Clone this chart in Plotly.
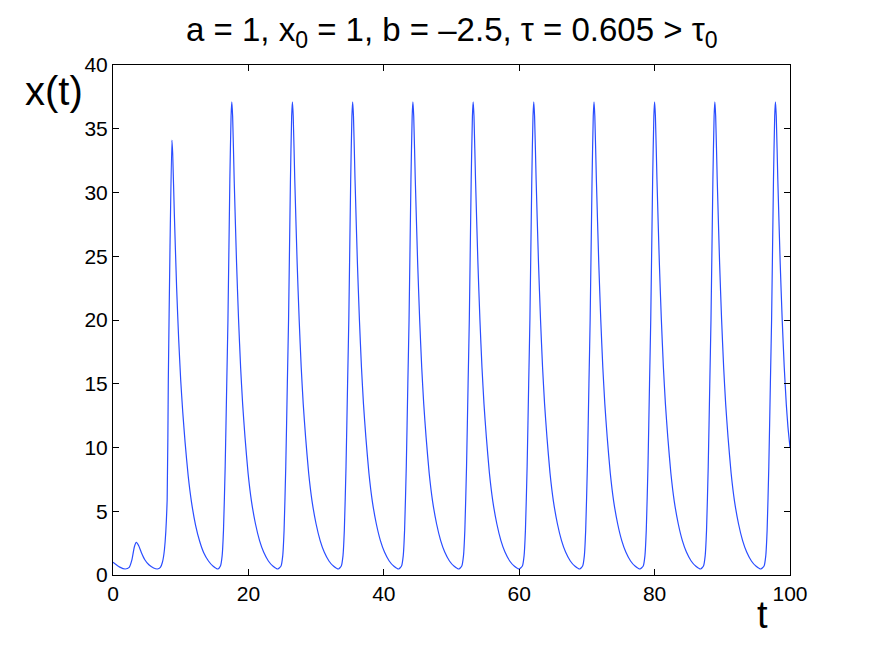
import plotly.graph_objects as go

# values (x(t) vs t)
t_start = [0, 0.5, 1.0, 1.8, 2.4, 2.8, 3.15, 3.45, 3.8, 4.2, 4.7, 5.3, 6.0, 6.55, 7.0, 7.3, 7.6, 8.0, 8.17, 8.42,
           8.7, 8.82, 9.05, 9.4, 9.7, 10.0, 10.3, 10.65, 11.1, 11.6, 12.2, 12.8, 13.4, 14.1, 14.8, 15.5,
           15.87, 16.12, 16.32, 16.57, 16.8, 16.98, 17.26, 17.44]
x_start = [1.0, 0.8, 0.62, 0.47, 0.6, 1.2, 2.2, 2.56, 2.3, 1.75, 1.2, 0.8, 0.55, 0.47, 0.6, 1.0, 2.0, 5.9, 15.3, 25.7,
           34.1, 33.0, 28.5, 22.5, 18.5, 15.3, 12.8, 10.4, 7.8, 5.7, 3.9, 2.65, 1.75, 1.1, 0.68, 0.47,
           0.7, 1.5, 3.5, 8.5, 15.0, 20.0, 31.0, 36.0]

t_osc = [
    17.55, 17.67, 17.90, 18.25, 18.55, 18.85, 19.15, 19.50, 19.95, 20.45, 21.05, 21.65, 22.25, 22.95, 23.65, 24.35,
    24.82, 25.07, 25.27, 25.52, 25.75, 25.93, 26.21, 26.39,
    26.50, 26.62, 26.85, 27.20, 27.50, 27.80, 28.10, 28.45, 28.90, 29.40, 30.00, 30.60, 31.20, 31.90, 32.60, 33.30,
    33.72, 33.97, 34.17, 34.42, 34.65, 34.83, 35.11, 35.29,
    35.40, 35.52, 35.75, 36.10, 36.40, 36.70, 37.00, 37.35, 37.80, 38.30, 38.90, 39.50, 40.10, 40.80, 41.50, 42.20,
    42.62, 42.87, 43.07, 43.32, 43.55, 43.73, 44.01, 44.19,
    44.30, 44.42, 44.65, 45.00, 45.30, 45.60, 45.90, 46.25, 46.70, 47.20, 47.80, 48.40, 49.00, 49.70, 50.40, 51.10,
    51.52, 51.77, 51.97, 52.22, 52.45, 52.63, 52.91, 53.09,
    53.20, 53.32, 53.55, 53.90, 54.20, 54.50, 54.80, 55.15, 55.60, 56.10, 56.70, 57.30, 57.90, 58.60, 59.30, 60.00,
    60.47, 60.72, 60.92, 61.17, 61.40, 61.58, 61.86, 62.04,
    62.15, 62.27, 62.50, 62.85, 63.15, 63.45, 63.75, 64.10, 64.55, 65.05, 65.65, 66.25, 66.85, 67.55, 68.25, 68.95,
    69.37, 69.62, 69.82, 70.07, 70.30, 70.48, 70.76, 70.94,
    71.05, 71.17, 71.40, 71.75, 72.05, 72.35, 72.65, 73.00, 73.45, 73.95, 74.55, 75.15, 75.75, 76.45, 77.15, 77.85,
    78.32, 78.57, 78.77, 79.02, 79.25, 79.43, 79.71, 79.89,
    80.00, 80.12, 80.35, 80.70, 81.00, 81.30, 81.60, 81.95, 82.40, 82.90, 83.50, 84.10, 84.70, 85.40, 86.10, 86.80,
    87.22, 87.47, 87.67, 87.92, 88.15, 88.33, 88.61, 88.79,
    88.90, 89.02, 89.25, 89.60, 89.90, 90.20, 90.50, 90.85, 91.30, 91.80, 92.40, 93.00, 93.60, 94.30, 95.00, 95.70,
    96.17, 96.42, 96.62, 96.87, 97.10, 97.28, 97.56, 97.74,
    97.85, 97.97, 98.20, 98.55, 98.85, 99.15, 99.45, 99.70, 100.0,
]
x_osc = [
    37.1, 36.0, 31.0, 24.5, 20.0, 16.3, 13.4, 10.8, 8.0, 5.8, 4.0, 2.7, 1.8, 1.1, 0.68, 0.47,
    0.7, 1.5, 3.5, 8.5, 15.0, 20.0, 31.0, 36.0,
    37.1, 36.0, 31.0, 24.5, 20.0, 16.3, 13.4, 10.8, 8.0, 5.8, 4.0, 2.7, 1.8, 1.1, 0.68, 0.47,
    0.7, 1.5, 3.5, 8.5, 15.0, 20.0, 31.0, 36.0,
    37.1, 36.0, 31.0, 24.5, 20.0, 16.3, 13.4, 10.8, 8.0, 5.8, 4.0, 2.7, 1.8, 1.1, 0.68, 0.47,
    0.7, 1.5, 3.5, 8.5, 15.0, 20.0, 31.0, 36.0,
    37.1, 36.0, 31.0, 24.5, 20.0, 16.3, 13.4, 10.8, 8.0, 5.8, 4.0, 2.7, 1.8, 1.1, 0.68, 0.47,
    0.7, 1.5, 3.5, 8.5, 15.0, 20.0, 31.0, 36.0,
    37.1, 36.0, 31.0, 24.5, 20.0, 16.3, 13.4, 10.8, 8.0, 5.8, 4.0, 2.7, 1.8, 1.1, 0.68, 0.47,
    0.7, 1.5, 3.5, 8.5, 15.0, 20.0, 31.0, 36.0,
    37.1, 36.0, 31.0, 24.5, 20.0, 16.3, 13.4, 10.8, 8.0, 5.8, 4.0, 2.7, 1.8, 1.1, 0.68, 0.47,
    0.7, 1.5, 3.5, 8.5, 15.0, 20.0, 31.0, 36.0,
    37.1, 36.0, 31.0, 24.5, 20.0, 16.3, 13.4, 10.8, 8.0, 5.8, 4.0, 2.7, 1.8, 1.1, 0.68, 0.47,
    0.7, 1.5, 3.5, 8.5, 15.0, 20.0, 31.0, 36.0,
    37.1, 36.0, 31.0, 24.5, 20.0, 16.3, 13.4, 10.8, 8.0, 5.8, 4.0, 2.7, 1.8, 1.1, 0.68, 0.47,
    0.7, 1.5, 3.5, 8.5, 15.0, 20.0, 31.0, 36.0,
    37.1, 36.0, 31.0, 24.5, 20.0, 16.3, 13.4, 10.8, 8.0, 5.8, 4.0, 2.7, 1.8, 1.1, 0.68, 0.47,
    0.7, 1.5, 3.5, 8.5, 15.0, 20.0, 31.0, 36.0,
    37.1, 36.0, 31.0, 24.5, 20.0, 16.3, 13.4, 11.6, 10.0,
]

x_ticks = [0, 20, 40, 60, 80, 100]
y_ticks = [0, 5, 10, 15, 20, 25, 30, 35, 40]

title_text = "a = 1, x<sub>0</sub> = 1, b = \u20132.5, \u03c4 = 0.605 > \u03c4<sub>0</sub>"

FONT = "Liberation Sans, Arial, Helvetica, sans-serif"

fig = go.Figure()
fig.add_trace(go.Scatter(x=t_start + t_osc, y=x_start + x_osc, mode="lines",
                         line=dict(color="#2a4dff", width=1.2, shape="spline", smoothing=0.5),
                         showlegend=False, hoverinfo="skip"))

axis_common = dict(showline=True, linecolor="black", linewidth=1, mirror="allticks",
                   ticks="inside", ticklen=6, tickcolor="black", tickwidth=1,
                   showgrid=False, zeroline=False,
                   tickfont=dict(family=FONT, size=21, color="black"))

fig.update_xaxes(range=[0, 100], tickvals=x_ticks, **axis_common)
fig.update_yaxes(range=[0, 40], tickvals=y_ticks, **axis_common)

# the page puts the figure 8px in from the top left corner
fig.add_annotation(text=title_text, xref="paper", yref="paper", x=0.5, y=1,
                   xanchor="center", yanchor="bottom", yshift=10, showarrow=False,
                   font=dict(family=FONT, size=33, color="black"))
fig.add_annotation(text="x(t)", xref="paper", yref="paper", x=0, y=1,
                   xanchor="right", yanchor="top", xshift=-28, yshift=-2, showarrow=False,
                   font=dict(family=FONT, size=40, color="black"))
fig.add_annotation(text="t", xref="paper", yref="paper", x=0.959, y=0,
                   xanchor="center", yanchor="top", yshift=-17, showarrow=False,
                   font=dict(family=FONT, size=38, color="black"))

fig.update_layout(width=864, height=640, margin=dict(l=105, r=82, t=57, b=73),
                  paper_bgcolor="white", plot_bgcolor="white",
                  font=dict(family=FONT, color="black"))

fig.write_html("out.html")
